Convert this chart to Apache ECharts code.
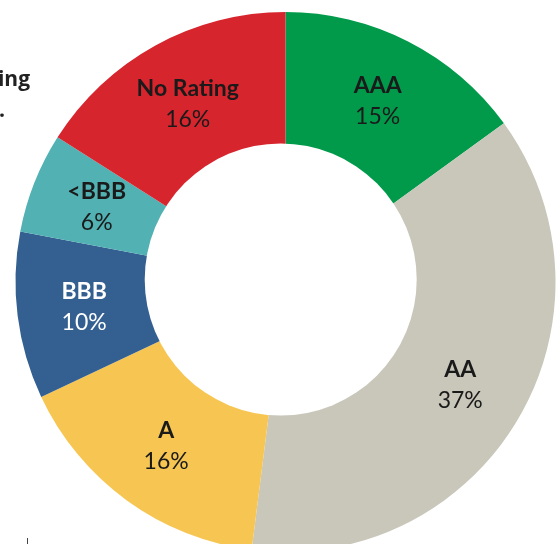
<!DOCTYPE html>
<html>
<head>
<meta charset="utf-8">
<script src="https://cdn.jsdelivr.net/npm/echarts@6/dist/echarts.min.js"></script>
<style>
  html, body { margin: 0; padding: 0; background: #fff; }
  #chart { width: 560px; height: 544px; }
</style>
</head>
<body>
<div id="chart"></div>
<script>
// rating buckets, clockwise from 12 o'clock
const ratings = ["AAA", "AA", "A", "BBB", "<BBB", "No Rating"];
const shares = [15, 37, 16, 10, 6, 16];
const colors = ["#009a4a", "#c9c6ba", "#f7c652", "#335f91", "#52b1b3", "#d7252e"];

const chart = echarts.init(document.getElementById("chart"), null, { renderer: "canvas" });

chart.setOption({
  animation: false,
  color: colors,
  graphic: [
    // hole of the donut (slightly off-centre in the original)
    { type: "circle", z: 10, shape: { cx: 280.7, cy: 279.5, r: 136 }, style: { fill: "#fff" } },
    // cut-off heading text on the left
    { type: "text", x: 30, y: 91, z: 10,
      style: { text: "Rating", textAlign: "right", textVerticalAlign: "bottom",
               font: "bold 21px 'Open Sans'", fill: "#222" } },
    { type: "text", x: 5, y: 122, z: 10,
      style: { text: "portfolio.", textAlign: "right", textVerticalAlign: "bottom",
               font: "bold 21px 'Open Sans'", fill: "#222" } },
    { type: "line", z: 10, shape: { x1: 27.5, y1: 538, x2: 27.5, y2: 544 },
      style: { stroke: "#444", lineWidth: 1 } }
  ],
  series: [{
    type: "pie",
    center: [285.5, 282],
    radius: [130, 270],
    startAngle: 90,
    clockwise: true,
    silent: true,
    itemStyle: { borderWidth: 0 },
    label: {
      show: true,
      position: "inside",
      formatter: p => p.name === "BBB"
        ? "{nw|" + p.name + "}\n{pw|" + p.value + "%}"
        : "{n|" + p.name + "}\n{p|" + p.value + "%}",
      rich: {
        n: { fontFamily: "Lato", fontWeight: "bold", fontSize: 23, color: "#1a1a1a", lineHeight: 30, padding: [0, 0, 2, 0] },
        p: { fontFamily: "Lato", fontWeight: "normal", fontSize: 23, color: "#1a1a1a", lineHeight: 30 },
        nw: { fontFamily: "Lato", fontWeight: "bold", fontSize: 23, color: "#fff", lineHeight: 30, padding: [0, 0, 2, 0] },
        pw: { fontFamily: "Lato", fontWeight: "normal", fontSize: 23, color: "#fff", lineHeight: 30 }
      }
    },
    labelLine: { show: false },
    data: ratings.map((r, i) => ({ name: r, value: shares[i] }))
  }]
});
</script>
</body>
</html>
